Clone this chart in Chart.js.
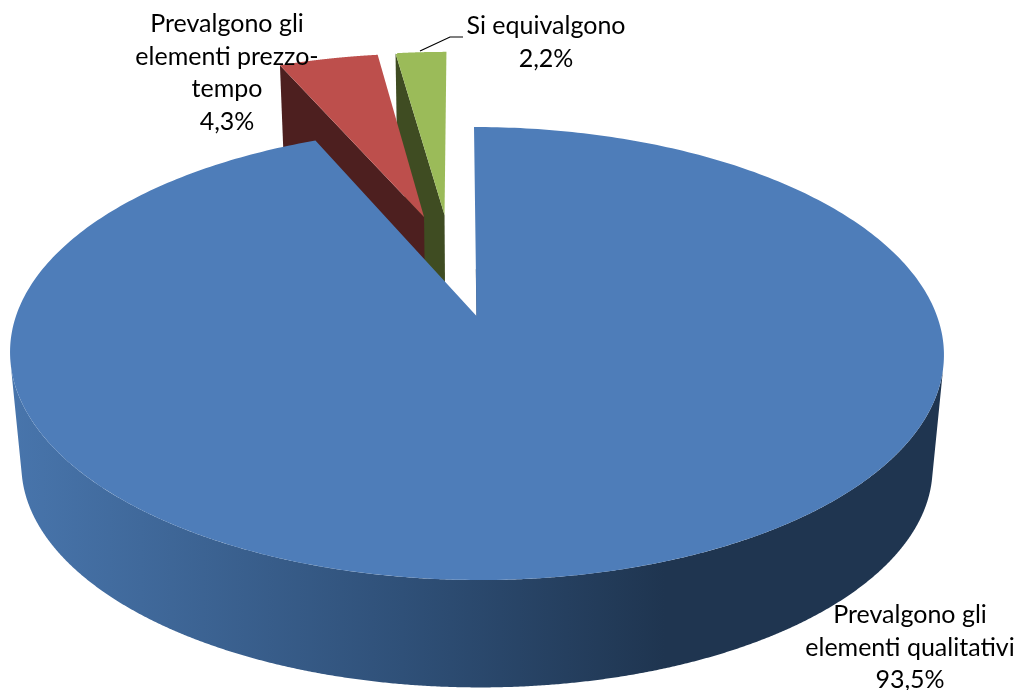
<!DOCTYPE html>
<html><head><meta charset="utf-8">
<style>html,body{margin:0;padding:0;background:#fff}canvas{display:block}</style>
<script src="https://cdn.jsdelivr.net/npm/chart.js@4"></script>
</head><body>
<canvas id="c" width="1017" height="690"></canvas>
<script>
const categories = ['Prevalgono gli elementi qualitativi', 'Prevalgono gli elementi prezzo-tempo', 'Si equivalgono'];
const labelLines = [['Prevalgono gli', 'elementi qualitativi'], ['Prevalgono gli', 'elementi prezzo-', 'tempo'], ['Si equivalgono']];
const values = [93.5, 4.3, 2.2];

const topColors = ['#4E7DB9', '#BD4F4C', '#9BBB59'];
const wallColors = ['#1F3550', '#4D1F1F', '#3F4C22'];
// explosion of each slice, in disc units
const explodeU = [0, -0.12, -0.072];
const explodeV = [0, -0.485, -0.496];
const labelBox = [{x: 910, y: 615}, {x: 227, y: 24}, {x: 546, y: 26}];
const LINE_H = 32.5;

// perspective projection of the pie disc
const P = {cx: 476.5, cy: 316, A: 460.5, B: 220.3, k: 0.1656, shear: 0.0132, vpY: 5000, s: 0.9757};
function project(u, v) {
  const w = 1 - P.k * v, dy = P.B * v / w;
  return [P.cx + P.A * u / w + P.shear * dy, P.cy + dy];
}
function lower(p) { return [P.cx + (p[0] - P.cx) * P.s, P.vpY - (P.vpY - p[1]) * P.s]; }
function rim(th, i) { return project(Math.sin(th) + explodeU[i], -Math.cos(th) + explodeV[i]); }

const pie3d = {
  id: 'pie3d',
  afterDatasetsDraw(chart) {
    const ctx = chart.ctx;
    const arcs = chart.getDatasetMeta(0).data;
    const ang = arcs.map(a => [a.startAngle + Math.PI / 2, a.endAngle + Math.PI / 2]);
    const poly = pts => { ctx.beginPath(); pts.forEach((p, j) => j ? ctx.lineTo(p[0], p[1]) : ctx.moveTo(p[0], p[1])); ctx.closePath(); };
    const face = i => {
      const pts = [project(explodeU[i], explodeV[i])];
      const n = 400, [a, b] = ang[i];
      for (let j = 0; j <= n; j++) pts.push(rim(a + (b - a) * j / n, i));
      return pts;
    };
    // exploded small slices, far to near: green then red
    for (const i of [2, 1]) {
      const apex = project(explodeU[i], explodeV[i]);
      const outer = rim(ang[i][0], i);
      poly([outer, apex, lower(apex), lower(outer)]);
      ctx.fillStyle = wallColors[i]; ctx.fill();
      poly(face(i));
      ctx.fillStyle = topColors[i]; ctx.fill();
    }
    // side of the large slice
    const N = 720;
    let ts = 0, te = 0, bs = -1e9, be = -1e9;
    for (let j = 0; j <= N; j++) {
      const th = ang[0][0] + (ang[0][1] - ang[0][0]) * j / N, p = rim(th, 0);
      const slope = (p[0] - P.cx) / (P.vpY - p[1]);
      if (slope > bs) { bs = slope; ts = th; }
      if (-slope > be) { be = -slope; te = th; }
    }
    const g = ctx.createLinearGradient(10, 0, 945, 0);
    g.addColorStop(0, '#4875AC');
    g.addColorStop(0.14, '#40699B');
    g.addColorStop(0.42, '#2F5078');
    g.addColorStop(0.70, '#1F3550');
    g.addColorStop(1, '#1F3550');
    const tops = [], bots = [];
    for (let j = 0; j <= N; j++) {
      const p = rim(ts + (te - ts) * j / N, 0);
      tops.push(p); bots.push(lower(p));
    }
    poly(tops.concat(bots.reverse()));
    ctx.fillStyle = g; ctx.fill();
    // thin start wall of the large slice
    const ap = project(explodeU[0], explodeV[0]), mid = project(0, -0.22);
    ctx.beginPath(); ctx.moveTo(mid[0] + 0.4, mid[1]); ctx.lineTo(ap[0] + 0.4, ap[1] + 1);
    ctx.strokeStyle = wallColors[0]; ctx.lineWidth = 0.8; ctx.stroke();
    poly(face(0));
    ctx.fillStyle = topColors[0]; ctx.fill();

    // leader line of the smallest slice
    ctx.beginPath(); ctx.moveTo(420, 51); ctx.lineTo(450, 37); ctx.lineTo(463, 37);
    ctx.strokeStyle = '#000'; ctx.lineWidth = 1.2; ctx.stroke();

    // labels
    ctx.fillStyle = '#000';
    ctx.font = '25px Lato';
    ctx.textAlign = 'center';
    ctx.textBaseline = 'middle';
    values.forEach((v, i) => {
      const lines = labelLines[i].concat(v.toFixed(1).replace('.', ',') + '%');
      lines.forEach((t, j) => ctx.fillText(t, labelBox[i].x, labelBox[i].y + j * LINE_H));
    });
  }
};

new Chart(document.getElementById('c'), {
  type: 'pie',
  data: {labels: categories, datasets: [{data: values, backgroundColor: 'rgba(0,0,0,0)', borderWidth: 0}]},
  options: {
    responsive: false, animation: false,
    plugins: {legend: {display: false}, tooltip: {enabled: false}}
  },
  plugins: [pie3d]
});
</script>
</body></html>
